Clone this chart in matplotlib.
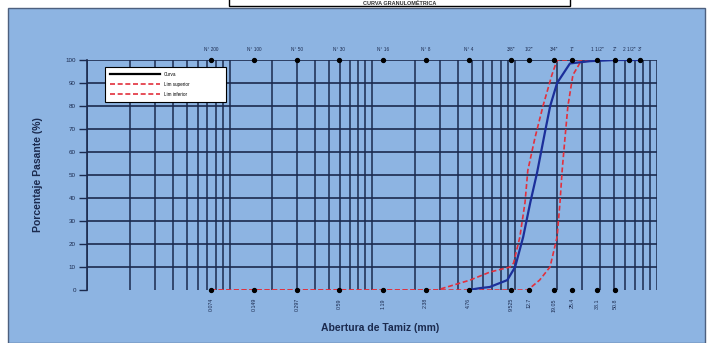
import matplotlib
matplotlib.use("Agg")
import matplotlib.pyplot as plt
from matplotlib.patches import Rectangle

plt.rcParams['font.family'] = ['Liberation Sans', 'DejaVu Sans']

# sieve openings (mm) and names
top_mm = [0.074, 0.149, 0.297, 0.59, 1.19, 2.38, 4.76, 9.525, 12.7, 19.05,
          25.4, 38.1, 50.8, 63.5, 76.2]
top_labels = ['N° 200', 'N° 100', 'N° 50', 'N° 30', 'N° 16', 'N° 8', 'N° 4',
              '3/8"', '1/2"', '3/4"', '1"', '1 1/2"', '2"', '2 1/2"', '3"']
bottom_mm = [0.074, 0.149, 0.297, 0.59, 1.19, 2.38, 4.76, 9.525, 12.7,
             19.05, 25.4, 38.1, 50.8]
bottom_labels = ['0.074', '0.149', '0.297', '0.59', '1.19', '2.38', '4.76',
                 '9.525', '12.7', '19.05', '25.4', '38.1', '50.8']

# curves
curva_mm = [4.76, 5.7, 6.7, 8.9, 10.1, 11.5, 12.9, 14.4, 16.4, 17.8, 19.9,
            24.5, 33.9, 50.8, 76.2]
curva_pct = [0, 0.8, 1.3, 4.3, 10, 23, 38, 51, 69, 80, 90, 98.5, 99.5, 100, 100]

sup_mm = [0.074, 2.86, 4.87, 6.73, 9.3, 9.85, 10.9, 11.85, 12.4, 13.9, 15.85,
          18.3, 19.9, 76.2]
sup_pct = [0, 0, 4.3, 7.8, 10, 11.7, 23, 38, 52, 66, 80, 93.5, 100, 100]

inf_mm = [0.074, 12.4, 15.0, 17.75, 19.9, 20.85, 21.6, 22.6, 23.7, 25.7,
          28.8, 33.9, 76.2]
inf_pct = [0, 0, 4.3, 10, 23, 38, 52, 66, 80, 93.5, 98.7, 100, 100]

bg = '#8DB4E2'
grid_c = '#1b2a4e'

fig = plt.figure(figsize=(7.07, 3.43), dpi=100)
fig.patch.set_facecolor('white')
fig.patches.append(Rectangle((8/707, 0), 697/707, 335/343, transform=fig.transFigure,
                             facecolor=bg, edgecolor='#4d607f', lw=1.0, zorder=-5))
# title box at the top edge
fig.patches.append(Rectangle((229/707, 337/343), 341/707, 10/343, transform=fig.transFigure,
                             facecolor='white', edgecolor='black', lw=1.0, zorder=-4))
fig.text(400/707, 340/343, 'CURVA GRANULOMÉTRICA', ha='center', va='center',
         fontsize=4, fontweight='bold', color='#333333')

ax = fig.add_axes([87/707, 53/343, 570/707, 230/343])
ax.set_facecolor('none')
ax.set_xscale('log')
ax.set_xlim(0.01, 100)
ax.set_ylim(0, 100)

# log grid
for e in range(-2, 2):
    for k in range(1, 10):
        ax.axvline(k * 10.0**e, color=grid_c, lw=1.1, zorder=1)
ax.axvline(100, color=grid_c, lw=1.1, zorder=1)
for yv in range(10, 101, 10):
    ax.axhline(yv, color=grid_c, lw=1.2, zorder=1)

ax.plot(curva_mm, curva_pct, color='#1c2f9a', lw=1.6, zorder=4, label='Curva')
ax.plot(sup_mm, sup_pct, color='#e2303c', lw=1.2, ls=(0, (3, 1.6)), zorder=3,
        label='Lim superior')
ax.plot(inf_mm, inf_pct, color='#e2303c', lw=1.2, ls=(0, (3, 1.6)), zorder=3,
        label='Lim inferior')

ax.plot(top_mm, [100]*len(top_mm), 'o', color='black', ms=2.8, zorder=5, clip_on=False)
ax.plot(bottom_mm, [0]*len(bottom_mm), 'o', color='black', ms=2.8, zorder=5, clip_on=False)

for xm, lab in zip(top_mm, top_labels):
    ax.text(xm, 103.5, lab, ha='center', va='bottom', fontsize=3.4, color='#1b2a4e')
for xm, lab in zip(bottom_mm, bottom_labels):
    ax.text(xm, -3.5, lab, ha='center', va='top', rotation=90, fontsize=3.8,
            color='#1b2a4e')

ax.set_xticks([])
ax.set_xticks([], minor=True)
ax.set_yticks(range(0, 101, 10))
ax.tick_params(axis='y', direction='out', length=6, width=1, color=grid_c,
               labelsize=4.5, labelcolor='#1b2a4e', pad=2)
for s in ['top', 'right', 'bottom']:
    ax.spines[s].set_visible(False)
ax.spines['left'].set_color(grid_c)
ax.spines['left'].set_linewidth(1.2)

ax.set_ylabel('Porcentaje Pasante (%)', fontsize=7.5, fontweight='bold',
              color='#1b2a4e', labelpad=16)
fig.text(380/707, 1 - 328/343, 'Abertura de Tamiz (mm)', ha='center', va='center',
         fontsize=7.5, fontweight='bold', color='#1b2a4e')

leg = ax.legend(loc='upper left', bbox_to_anchor=(103/707, 1 - 100/343, 125/707, 35/343),
                bbox_transform=fig.transFigure, mode='expand', fontsize=3.3,
                frameon=True, fancybox=False, edgecolor='black', framealpha=1,
                handlelength=11, labelspacing=1.1, borderpad=1.0, handletextpad=0.8)
leg.get_frame().set_linewidth(0.8)
leg.set_zorder(6)
leg.get_lines()[0].set_color('black')

fig.savefig('out.png', dpi=100)
